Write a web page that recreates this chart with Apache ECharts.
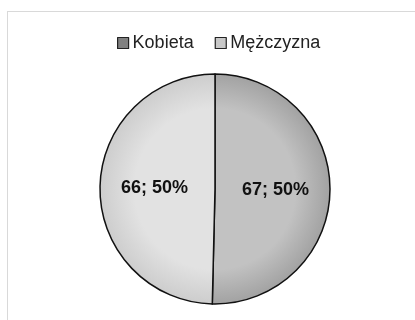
<!DOCTYPE html>
<html>
<head>
<meta charset="utf-8">
<script src="https://cdn.jsdelivr.net/npm/echarts@6/dist/echarts.min.js"></script>
<style>
  html, body { margin: 0; padding: 0; background: #fff; }
  #frame { position: absolute; left: 7px; top: 11px; width: 420px; height: 320px; border: 1px solid #d9d9d9; box-sizing: border-box; }
  #chart { position: absolute; left: 0; top: 0; width: 415px; height: 320px; }
</style>
</head>
<body>
<div id="frame"></div>
<div id="chart"></div>
<script>
// Respondents by gender
const categories = ['Kobieta', 'Mężczyzna'];
const counts = [67, 66];

const CX = 215, CY = 189, R = 115;

const fills = [
  { inner: '#c2c2c2', outer: '#a2a2a2', legend: '#808080' },
  { inner: '#e2e2e2', outer: '#cdcdcd', legend: '#c8c8c8' }
];

// Shading runs from the pie centre outwards, so both slices share one circle
function sliceFill(c) {
  return new echarts.graphic.RadialGradient(CX, CY, R, [
    { offset: 0, color: c.inner },
    { offset: 0.7, color: c.inner },
    { offset: 1, color: c.outer }
  ], true);
}

const chart = echarts.init(document.getElementById('chart'), null, { renderer: 'canvas' });
chart.setOption({
  animation: false,
  legend: {
    top: 29,
    left: 112,
    itemWidth: 11,
    itemHeight: 11,
    itemGap: 21,
    icon: 'rect',
    textStyle: { fontFamily: 'Liberation Sans, Arial, sans-serif', fontSize: 18, color: '#222', padding: [0, 0, 0, -1] },
    data: categories.map((name, i) => ({
      name,
      itemStyle: { color: fills[i].legend, borderColor: '#222', borderWidth: 1.2 }
    }))
  },
  series: [{
    type: 'pie',
    center: [CX, CY],
    radius: [0, R],
    startAngle: 90,
    clockwise: true,
    label: {
      show: true,
      position: 'inside',
      formatter: p => p.value + '; ' + Math.round(p.percent) + '%',
      fontFamily: 'Liberation Sans, Arial, sans-serif',
      fontSize: 18,
      fontWeight: 'bold',
      color: '#111'
    },
    labelLine: { show: false },
    emphasis: { disabled: true },
    itemStyle: { borderColor: '#111', borderWidth: 1.5 },
    data: categories.map((name, i) => ({
      name,
      value: counts[i],
      itemStyle: { color: sliceFill(fills[i]) }
    }))
  }]
});
</script>
</body>
</html>
